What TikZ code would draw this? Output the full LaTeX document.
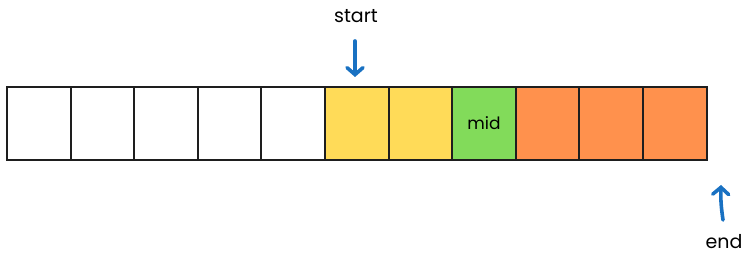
\documentclass[tikz,border=0pt]{standalone}
\usepackage{fontspec}
\setmainfont{Poppins}
\usetikzlibrary{arrows.meta}
\definecolor{cyel}{HTML}{FFDB58}
\definecolor{cgrn}{HTML}{82DB5A}
\definecolor{corg}{HTML}{FF914D}
\definecolor{cblue}{HTML}{1971C2}
\definecolor{cline}{HTML}{1E1E1E}
\begin{document}
\begin{tikzpicture}[x=1pt,y=-1pt,
  cell/.style={draw=cline,line width=2pt,minimum width=63.6pt,minimum height=73pt,inner sep=0pt,anchor=north west},
  lbl/.style={font=\fontsize{19}{22}\selectfont,inner sep=0pt},
  arr/.style={draw=cblue,line width=3.6pt,line cap=round,-{Straight Barb[length=7pt,width=16pt,line cap=round]}}]
\useasboundingbox (0,0) rectangle (747,256);
\foreach \i/\c in {0/white,1/white,2/white,3/white,4/white,5/cyel,6/cyel,7/cgrn,8/corg,9/corg,10/corg}{
  \node[cell,fill=\c] (c\i) at ({6+63.6*\i},86) {};
}
\node[inner sep=0pt] (mid) at (c7.center) {\fontsize{17}{20}\selectfont mid};
\node[lbl] (start) at (356,16) {start};
\node[lbl] (end) at (724,242) {end};
\coordinate (s1) at (355,41);
\coordinate (s2) at (355,77);
\coordinate (e1) at (723,220);
\coordinate (e2) at (721,185);
\draw[arr] (s1) -- (s2);
\draw[arr] (e1) to[bend left=5] (e2);
\end{tikzpicture}
\end{document}
